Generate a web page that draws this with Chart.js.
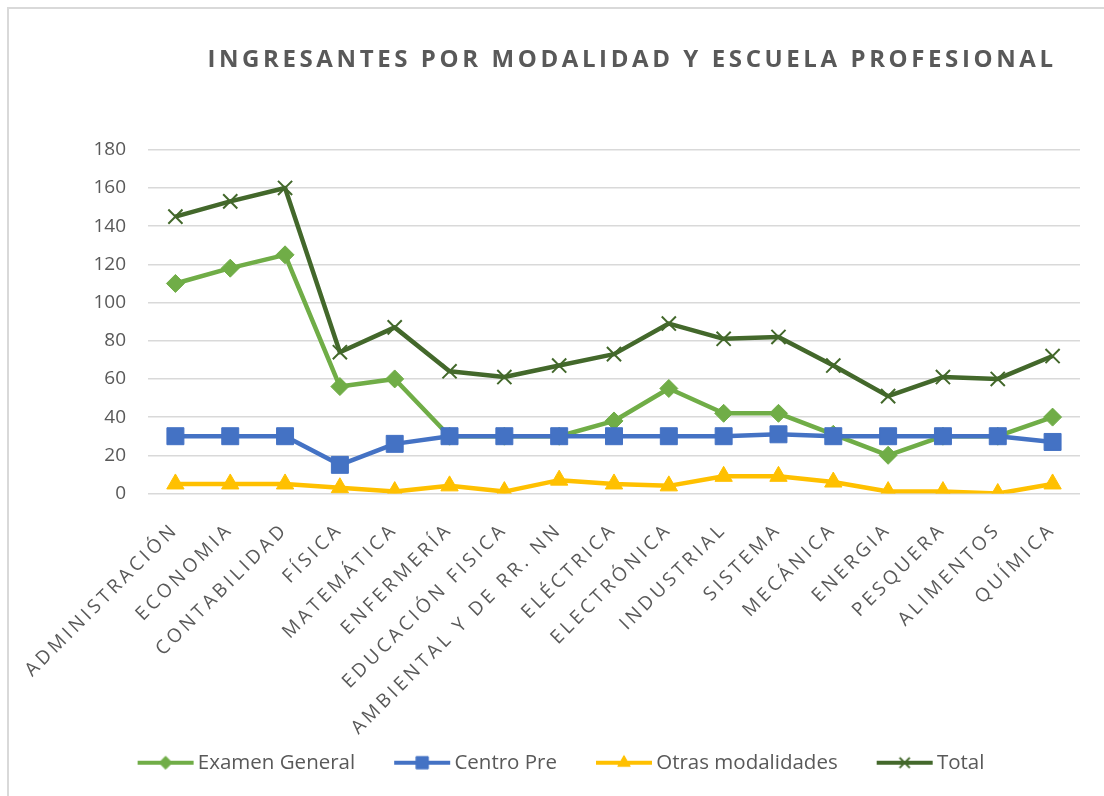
<!DOCTYPE html>
<html>
<head>
<meta charset="utf-8">
<script src="https://cdn.jsdelivr.net/npm/chart.js@4.4.1/dist/chart.umd.min.js"></script>
<style>
  html, body { margin: 0; padding: 0; background: #fff; overflow: hidden; }
  #wrap { position: relative; width: 1104px; height: 796px; }
  #frame { position: absolute; left: 7px; top: 7px; width: 1120px; height: 820px; border: 2px solid #d9d9d9; pointer-events: none; }
</style>
</head>
<body>
<div id="wrap">
  <canvas id="myChart" width="1104" height="796"></canvas>
  <div id="frame"></div>
</div>
<script>
const escuelas = ['ADMINISTRACIÓN', 'ECONOMIA', 'CONTABILIDAD', 'FÍSICA', 'MATEMÁTICA', 'ENFERMERÍA',
    'EDUCACIÓN FISICA', 'AMBIENTAL Y DE RR. NN', 'ELÉCTRICA', 'ELECTRÓNICA', 'INDUSTRIAL', 'SISTEMA',
    'MECÁNICA', 'ENERGIA', 'PESQUERA', 'ALIMENTOS', 'QUÍMICA'];

const examenGeneral = [110, 118, 125, 56, 60, 30, 30, 30, 38, 55, 42, 42, 31, 20, 30, 30, 40];
const centroPre = [30, 30, 30, 15, 26, 30, 30, 30, 30, 30, 30, 31, 30, 30, 30, 30, 27];
const otrasModalidades = [5, 5, 5, 3, 1, 4, 1, 7, 5, 4, 9, 9, 6, 1, 1, 0, 5];
const total = [145, 153, 160, 74, 87, 64, 61, 67, 73, 89, 81, 82, 67, 51, 61, 60, 72];

const yTicks = [0, 20, 40, 60, 80, 100, 120, 140, 160, 180];

const gris = '#595959';
const fuente = "'Open Sans', sans-serif";

// icono de leyenda: linea con marcador en medio
function iconoLeyenda(color, estilo, radio) {
    const c = document.createElement('canvas');
    c.width = 70;
    c.height = 22;
    const ctx = c.getContext('2d');
    ctx.strokeStyle = color;
    ctx.lineWidth = 4;
    ctx.beginPath();
    ctx.moveTo(13, 11);
    ctx.lineTo(69, 11);
    ctx.stroke();
    ctx.fillStyle = color;
    ctx.lineWidth = estilo === 'crossRot' ? 2 : 1;
    Chart.helpers.drawPoint(ctx, { pointStyle: estilo, radius: radio, rotation: 0, borderWidth: ctx.lineWidth }, 41, 11);
    return c;
}

function envolver(obj, key, antes) {
    if (!obj || obj['_env_' + key]) return;
    const orig = obj[key];
    obj[key] = function() {
        const ctx = this.ctx;
        ctx.save();
        antes(ctx);
        orig.apply(this, arguments);
        ctx.restore();
    };
    obj['_env_' + key] = true;
}

// espaciado de letras y posicion de titulo, leyenda y etiquetas del eje x
const espaciado = {
    id: 'espaciado',
    beforeDraw(chart) {
        envolver(chart.titleBlock, 'draw', ctx => {
            ctx.letterSpacing = '3.6px';
            ctx.translate(88, 0);
        });
        envolver(chart.legend, 'draw', ctx => { ctx.translate(14, 0); });
        const x = chart.scales.x;
        if (x) {
            // sin recorte: las etiquetas largas bajan hasta la leyenda
            x._computeLabelArea = function() { return undefined; };
            envolver(x, 'drawLabels', ctx => { ctx.letterSpacing = '3.5px'; });
        }
    }
};

const series = [
    { label: 'Examen General', data: examenGeneral, color: '#70ad47', estilo: 'rectRot', radio: 9, orden: 4 },
    { label: 'Centro Pre', data: centroPre, color: '#4472c4', estilo: 'rect', radio: 12, orden: 3 },
    { label: 'Otras modalidades', data: otrasModalidades, color: '#ffc000', estilo: 'triangle', radio: 10, orden: 2 },
    { label: 'Total', data: total, color: '#43682b', estilo: 'crossRot', radio: 10, orden: 1 }
];

const iconos = {};
series.forEach(s => {
    iconos[s.label] = iconoLeyenda(s.color, s.estilo, s.radio * 0.72);
});

var ctx = document.getElementById('myChart').getContext('2d');
new Chart(ctx, {
    type: 'line',
    data: {
        labels: escuelas,
        datasets: series.map(s => ({
            label: s.label,
            data: s.data,
            order: s.orden,
            borderColor: s.color,
            backgroundColor: s.color,
            borderWidth: 4.5,
            tension: 0,
            borderJoinStyle: 'round',
            pointStyle: s.estilo,
            pointRadius: s.radio,
            pointHoverRadius: s.radio,
            pointBorderWidth: s.estilo === 'crossRot' ? 2 : 1,
            pointBackgroundColor: s.color,
            pointBorderColor: s.color
        }))
    },
    options: {
        responsive: false,
        animation: false,
        events: [],
        layout: { padding: { left: 8, right: 24, top: 0, bottom: 13 } },
        plugins: {
            title: {
                display: true,
                text: 'INGRESANTES POR MODALIDAD Y ESCUELA PROFESIONAL',
                color: gris,
                font: { family: fuente, size: 24, weight: 'bold' },
                padding: { top: 46, bottom: 75 }
            },
            legend: {
                position: 'bottom',
                reverse: true,
                labels: {
                    color: gris,
                    font: { family: fuente, size: 20.5 },
                    usePointStyle: true,
                    pointStyleWidth: 56,
                    padding: 33,
                    generateLabels(chart) {
                        const items = Chart.defaults.plugins.legend.labels.generateLabels(chart);
                        items.forEach(it => { it.pointStyle = iconos[it.text]; });
                        return items;
                    }
                }
            },
            tooltip: { enabled: false }
        },
        scales: {
            x: {
                offset: true,
                grid: { display: false },
                border: { display: false },
                ticks: {
                    color: gris,
                    font: { family: fuente, size: 19 },
                    minRotation: 45,
                    maxRotation: 45,
                    autoSkip: false,
                    padding: 17
                },
                afterFit(scale) { scale.height = 226; }
            },
            y: {
                min: 0,
                max: 180,
                afterBuildTicks(scale) { scale.ticks = yTicks.map(v => ({ value: v })); },
                grid: { color: '#d9d9d9', lineWidth: 1.5, drawTicks: false },
                border: { display: false },
                ticks: {
                    color: gris,
                    font: { family: fuente, size: 19 },
                    padding: 22
                },
                afterFit(scale) { scale.width = 140; }
            }
        }
    },
    plugins: [espaciado]
});
</script>
</body>
</html>
